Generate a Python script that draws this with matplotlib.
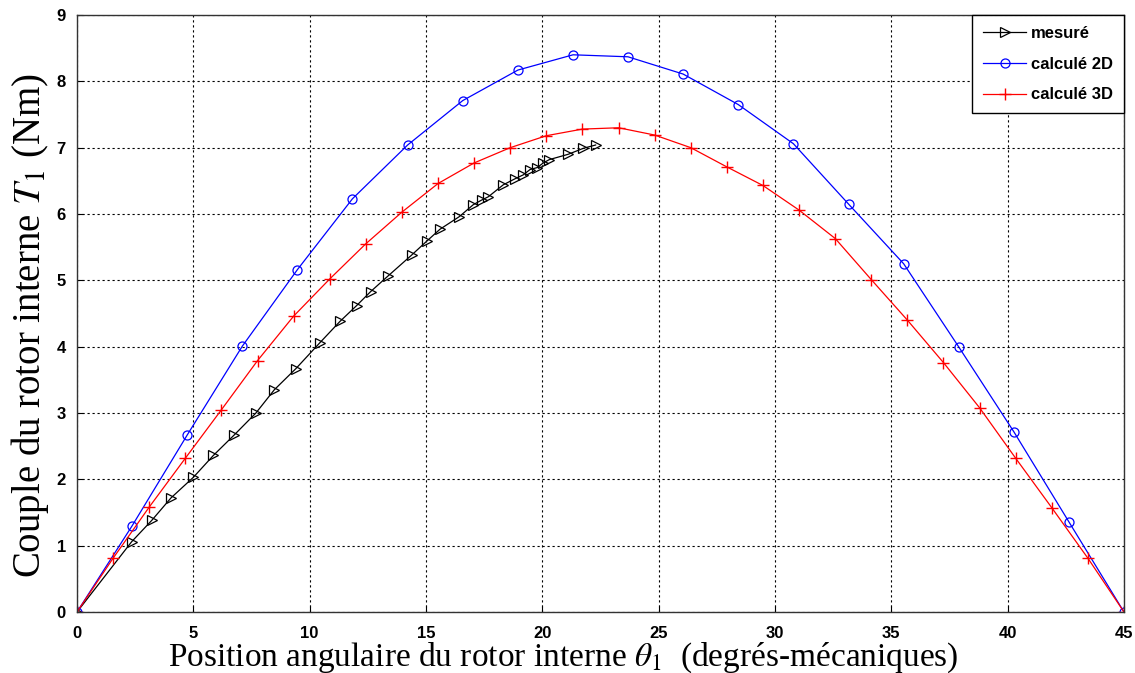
import numpy as np
import matplotlib
matplotlib.use("Agg")
import matplotlib.pyplot as plt

# ---- data ----
x_mesure = [0, 2.35, 3.21, 4.04, 5.00, 5.86, 6.76, 7.69, 8.48, 9.41, 10.44,
            11.30, 12.02, 12.62, 13.35, 14.38, 15.03, 15.60, 16.43, 17.03,
            17.39, 17.68, 18.32, 18.82, 19.18, 19.47, 19.78, 20.04, 20.30,
            21.11, 21.76, 22.29]
y_mesure = [0, 1.06, 1.38, 1.72, 2.03, 2.36, 2.67, 3.00, 3.35, 3.67, 4.06,
            4.38, 4.62, 4.83, 5.06, 5.38, 5.59, 5.77, 5.96, 6.14,
            6.21, 6.26, 6.44, 6.53, 6.59, 6.67, 6.70, 6.77, 6.82,
            6.90, 6.99, 7.04]

x_2d = [0, 2.37, 4.74, 7.11, 9.47, 11.84, 14.21, 16.58, 18.95, 21.32, 23.68,
        26.05, 28.42, 30.79, 33.16, 35.53, 37.89, 40.26, 42.63, 45.0]
y_2d = [0, 1.30, 2.67, 4.01, 5.16, 6.23, 7.04, 7.71, 8.17, 8.40, 8.37,
        8.11, 7.65, 7.06, 6.15, 5.25, 4.00, 2.72, 1.36, 0]

x_3d = [0, 1.55, 3.10, 4.66, 6.21, 7.76, 9.31, 10.86, 12.41, 13.97, 15.52,
        17.07, 18.62, 20.17, 21.72, 23.28, 24.83, 26.38, 27.93, 29.48, 31.03,
        32.59, 34.14, 35.69, 37.24, 38.79, 40.34, 41.90, 43.45, 45.0]
y_3d = [0, 0.81, 1.58, 2.32, 3.05, 3.79, 4.46, 5.02, 5.55, 6.03, 6.46,
        6.77, 7.00, 7.18, 7.28, 7.30, 7.19, 7.00, 6.71, 6.43, 6.06,
        5.63, 5.01, 4.40, 3.76, 3.08, 2.32, 1.57, 0.81, 0]

labels = ["mesuré", "calculé 2D", "calculé 3D"]
x_ticks = [0, 5, 10, 15, 20, 25, 30, 35, 40, 45]
y_ticks = [0, 1, 2, 3, 4, 5, 6, 7, 8, 9]

# ---- figure ----
plt.rcParams["mathtext.fontset"] = "stix"
fig = plt.figure(figsize=(11.35, 6.73), dpi=100)
ax = fig.add_axes([77/1135, 1 - 612/673, (1124-77)/1135, (612-15)/673])

ax.plot(x_mesure, y_mesure, color="black", lw=0.9, marker=">", ms=7,
        mfc="none", mec="black", mew=0.9, label=labels[0])
ax.plot(x_2d, y_2d, color="blue", lw=0.9, marker="o", ms=6.5,
        mfc="none", mec="blue", mew=0.9, label=labels[1])
ax.plot(x_3d, y_3d, color="red", lw=0.9, marker="+", ms=8,
        mec="red", mew=1.0, label=labels[2])

ax.set_xlim(0, 45)
ax.set_ylim(0, 9)
ax.set_xticks(x_ticks)
ax.set_yticks(y_ticks)
ax.grid(True, color="black", linestyle=(0, (2, 2.5)), linewidth=0.8)
ax.tick_params(direction="in", length=4, width=0.8, pad=8)
ax.tick_params(axis="x", pad=10)
for lab in ax.get_xticklabels() + ax.get_yticklabels():
    lab.set_fontfamily("Liberation Sans")
    lab.set_fontweight("bold")
    lab.set_fontsize(12)
for s in ax.spines.values():
    s.set_color("#333333")
    s.set_linewidth(1.0)

ax.set_xlabel(r"Position angulaire du rotor interne $\theta_1$  (degrés-mécaniques)",
              fontfamily="Liberation Serif", fontsize=24)
ax.xaxis.set_label_coords(0.464, -0.048)
ax.set_ylabel(r"Couple du rotor interne $T_1$ (Nm)",
              fontfamily="Liberation Serif", fontsize=28, va="center")
ax.yaxis.set_label_coords(-0.045, 0.48)

leg = ax.legend(loc="upper right", borderaxespad=0, fancybox=False,
                edgecolor="black", framealpha=1, handlelength=2.6,
                handletextpad=0.3,
                prop={"family": "Liberation Sans", "weight": "bold", "size": 12},
                borderpad=0.65, labelspacing=0.95)
leg.get_frame().set_linewidth(1.0)

fig.savefig("out.png", dpi=100)
